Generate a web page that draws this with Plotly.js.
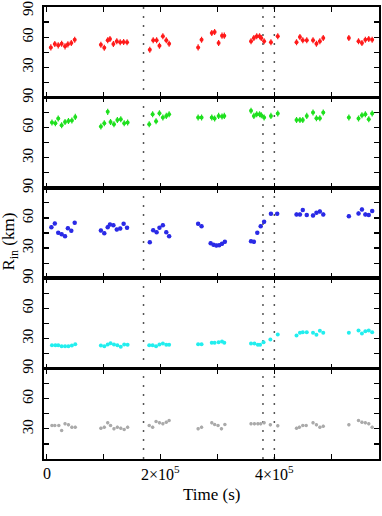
<!DOCTYPE html>
<html>
<head>
<meta charset="utf-8">
<script src="https://cdn.plot.ly/plotly-3.0.1.min.js"></script>
<style>html,body{margin:0;padding:0;background:#fff;}#chart{width:382px;height:516px;}</style>
</head>
<body>
<div id="chart"></div>
<script>
// Time (s) and R_in (km) for each panel
const timeRed = [7000,14000,20000,26000,32000,37000,43000,49000,
  95000,101000,107000,111000,117000,123000,129000,135000,141000,
  181000,187000,193000,198000,204000,210000,215000,
  266000,272000,290000,295000,302000,308000,312000,
  359000,364000,369000,374000,377000,382000,394000,406000,
  439000,445000,450000,457000,468000,474000,480000,486000,
  531000,548000,554000,560000,566000,572000];
const valRed = [49.8,53.2,51.8,53.5,50.8,52.8,54.2,57.5,
  52.5,49.5,56.8,58.2,53.2,55.8,54.8,55.2,54.8,
  47.5,56.8,56.8,51.5,60.8,56.8,53.5,
  49.8,57.5,64.2,65.2,54.2,61.5,61.5,
  55.8,59.2,60.8,60.8,59.2,55.8,54.8,60.8,
  54.8,60.2,56.8,56.8,56.8,53.5,55.8,59.2,
  59.2,55.8,54.2,57.5,58.2,57.5];

const timeGreen = [9000,15000,20000,26000,32000,38000,44000,50000,
  95000,101000,107000,112000,118000,124000,130000,136000,142000,
  180000,186000,192000,198000,204000,210000,215000,
  266000,272000,290000,295000,302000,308000,312000,
  359000,364000,369000,374000,377000,382000,394000,406000,
  439000,445000,450000,457000,468000,474000,480000,486000,
  531000,548000,554000,560000,566000,572000];
const valGreen = [65,64.3,69,62.3,65.6,66.6,67,70.6,
  61,64.3,75.6,65.6,63.3,67.6,68.3,64.3,65,
  63.3,73.3,66.3,74.3,70,71.6,73.3,
  70,70,70,69,71.6,71,71.6,
  76.6,71.6,73.3,73.3,72.3,70,71.6,74,
  67.6,67.6,67.6,71.6,75,69.3,69.3,75,
  70,69,72.3,73.3,68.3,74];

const timeBlue = [8000,14000,20000,26000,32000,37000,43000,49000,
  95000,101000,107000,111000,117000,123000,129000,135000,141000,
  181000,187000,193000,198000,204000,210000,215000,
  266000,272000,288000,293000,298000,303000,308000,313000,
  359000,364000,370000,376000,382000,394000,405000,
  439000,445000,450000,457000,468000,474000,480000,486000,
  531000,548000,554000,560000,566000,572000];
const valBlue = [50.8,54.5,45.2,43.8,41.8,49.8,47.2,55.2,
  47.5,44.8,50.8,53.5,52.8,48.5,49.5,54.2,50.2,
  35.8,47.8,45.8,50.2,52.8,45.8,41.8,
  54.2,51.8,34.8,33.2,32.6,32.8,34.2,36.2,
  36.8,36.2,45.2,51.8,56.2,64.2,64.2,
  63.5,63.5,67.8,62.8,62.5,65.2,66.5,63.5,
  61.8,64.5,68.5,63.5,62.8,66.8];

const timeCyan = [9000,15000,20000,26000,32000,38000,44000,50000,
  95000,101000,107000,112000,118000,124000,130000,136000,142000,
  180000,186000,192000,198000,204000,210000,215000,
  266000,272000,290000,295000,302000,308000,312000,
  359000,365000,371000,375000,381000,393000,406000,
  439000,445000,450000,457000,468000,474000,480000,486000,
  531000,548000,554000,560000,566000,572000];
const valCyan = [23.3,23.3,23.3,22.3,22.3,22.3,23,24.3,
  23,22.3,24,25.3,24,23.3,21.7,24,23.7,
  23.3,23.3,22.3,24,25,23.7,23.7,
  24.3,24.3,25.7,25.7,26.3,27,25.7,
  25,25,23.7,23.7,26.3,29,34,
  33,35.7,36.3,36.3,35.7,33.7,37.7,35.7,
  35.7,38,35,37.3,38,36.3];

const timeGray = [9000,14000,21000,26000,32000,38000,44000,50000,
  95000,101000,107000,112000,118000,124000,130000,136000,142000,
  180000,186000,192000,198000,204000,210000,215000,
  266000,272000,290000,295000,301000,307000,313000,
  359000,365000,371000,376000,382000,393000,406000,
  439000,444000,450000,456000,468000,474000,480000,486000,
  531000,548000,554000,560000,566000,572000];
const valGray = [33.3,33.3,33.3,28.3,35,34,31.7,31.7,
  30.7,31.7,36,33.3,30,31.7,30.7,29.3,31.7,
  33.3,31.7,37.3,36,35,36.7,38.3,
  30,31.7,36,34.3,33.3,30,34.3,
  35,35,35,35,36,34,33,
  30.7,31.7,33.3,33.3,36,34,31.7,32.7,
  34,38.3,36.7,36,35,31.7];

const markerTimes = [170000, 380000, 400000];
const xTickVals = [0,100000,200000,300000,400000,500000];
const xLabelVals = [0,200000,400000];
const xLabelText = ['0','2×10<sup>5</sup>','4×10<sup>5</sup>'];
const yTickVals = [0,15,30,45,60,75,90];
const yTickText = ['','','30','','60','','90'];
const yTickTextTop = ['','','30','','60','',''];

const panels = [
  {t: timeRed,   v: valRed,   color: '#ff1a1a', err: 3,   size: 4},
  {t: timeGreen, v: valGreen, color: '#1ee01e', err: 3,   size: 4},
  {t: timeBlue,  v: valBlue,  color: '#2a2ae6', err: 1.8, size: 4.5},
  {t: timeCyan,  v: valCyan,  color: '#22eeee', err: 1.2, size: 4},
  {t: timeGray,  v: valGray,  color: '#aaaaaa', err: 1.5, size: 3.5}
];

const family = 'Liberation Serif, Times New Roman, serif';
const yFont = {family: family, size: 15, color: '#000'};
const xFont = {family: family, size: 16, color: '#000'};
const titleFont = {family: family, size: 17, color: '#000'};
const traces = [];
const layout = {
  width: 382, height: 516,
  margin: {l: 44, r: 3, t: 7, b: 57},
  paper_bgcolor: '#fff', plot_bgcolor: '#fff',
  showlegend: false,
  font: yFont,
  shapes: [],
  annotations: [
    {text: 'R<sub>in</sub> (km)', xref: 'paper', yref: 'paper', x: -0.1, y: 0.48,
     xanchor: 'center', yanchor: 'middle', textangle: -90, showarrow: false,
     font: titleFont},
    {text: 'Time (s)', xref: 'paper', yref: 'paper', x: 0.5, y: 0, yshift: -35,
     xanchor: 'center', yanchor: 'middle', showarrow: false,
     font: titleFont},
    {text: '90', xref: 'paper', yref: 'paper', x: -0.049, y: 1, yshift: -1.5,
     xanchor: 'center', yanchor: 'middle', textangle: -90, showarrow: false,
     font: yFont}
  ]
};

xLabelVals.forEach((v, k) => {
  layout.annotations.push({
    text: xLabelText[k], xref: 'x5', yref: 'paper', x: v, y: 0, yshift: -14,
    xanchor: 'center', yanchor: 'middle', showarrow: false, font: xFont
  });
});

panels.forEach((p, i) => {
  const n = i + 1;
  const xa = n === 1 ? 'x' : 'x' + n;
  const ya = n === 1 ? 'y' : 'y' + n;
  traces.push({
    type: 'scatter', mode: 'markers', x: p.t, y: p.v, xaxis: xa, yaxis: ya,
    marker: {color: p.color, size: p.size, symbol: 'circle', line: {width: 0}},
    error_y: {type: 'constant', value: p.err, color: p.color, thickness: 1.2, width: 0},
    hoverinfo: 'skip', cliponaxis: false
  });
  const top = 1 - i / 5, bot = 1 - (i + 1) / 5;
  layout[n === 1 ? 'xaxis' : 'xaxis' + n] = {
    domain: [0, 1], anchor: ya, range: [-5000, 584000],
    matches: n === 1 ? undefined : 'x',
    tickmode: 'array', tickvals: xTickVals,
    showticklabels: false,
    ticks: 'inside', ticklen: 5, tickwidth: 1.2, tickcolor: '#000',
    showline: true, linecolor: '#000', linewidth: 1.8, mirror: 'ticks',
    showgrid: false, zeroline: false
  };
  layout[n === 1 ? 'yaxis' : 'yaxis' + n] = {
    domain: [bot, top], anchor: xa, range: [0, 90],
    tickmode: 'array', tickvals: yTickVals, ticktext: n === 1 ? yTickTextTop : yTickText,
    tickangle: -90, ticklabeloverflow: 'allow', ticklabelstandoff: 3,
    ticks: 'inside', ticklen: 5, tickwidth: 1.2, tickcolor: '#000',
    showline: true, linecolor: '#000', linewidth: 1.8, mirror: 'ticks',
    showgrid: false, zeroline: false, tickfont: yFont
  };
});

markerTimes.forEach(t => {
  layout.shapes.push({
    type: 'line', xref: 'x', yref: 'paper', x0: t, x1: t, y0: 0, y1: 1,
    line: {color: '#555', width: 1.5, dash: '2px,7px'}, layer: 'below'
  });
});

Plotly.newPlot('chart', traces, layout, {staticPlot: true, displayModeBar: false});
</script>
</body>
</html>
